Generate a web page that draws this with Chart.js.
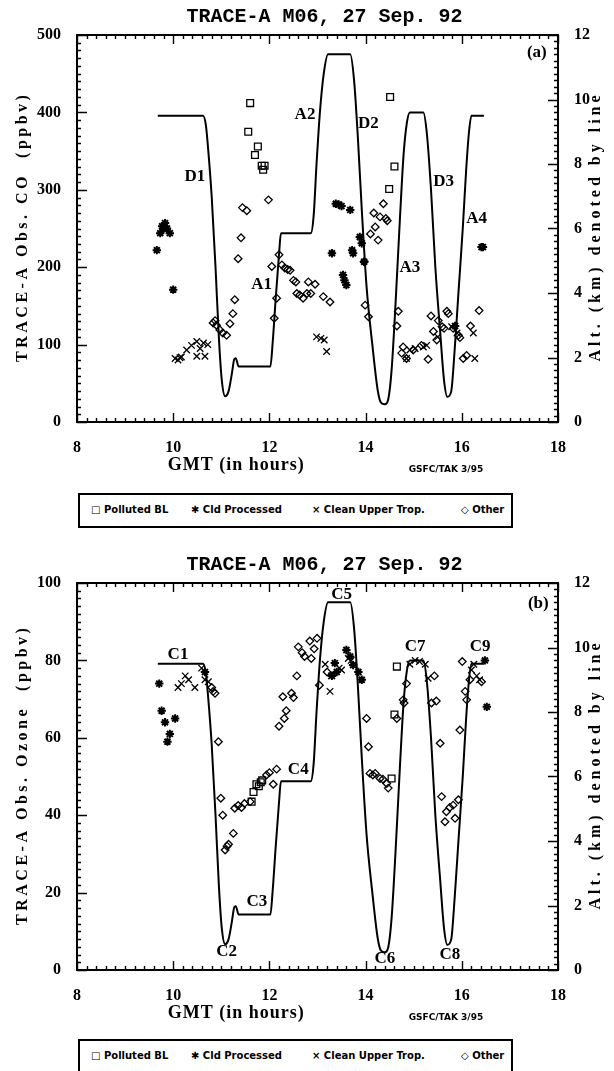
<!DOCTYPE html>
<html>
<head>
<meta charset="utf-8">
<title>TRACE-A M06, 27 Sep. 92</title>
<script src="https://cdn.jsdelivr.net/npm/chart.js@4.4.1/dist/chart.umd.min.js"></script>
<style>
  html, body { margin: 0; padding: 0; background: #fff; }
  body { width: 614px; height: 1071px; position: relative; overflow: hidden; }
  .panel { position: absolute; left: 0; width: 614px; height: 548px; }
  .legend {
    position: absolute; left: 78px; width: 431px; height: 31px;
    border: 2px solid #000; background: #fff;
    font: bold 10px "DejaVu Sans", sans-serif; color: #000;
  }
  .legend span { position: absolute; top: 9px; white-space: nowrap; }
</style>
</head>
<body>
<div class="panel" style="top:0"><canvas id="coChart" width="614" height="548"></canvas></div>
<div class="panel" style="top:548px"><canvas id="o3Chart" width="614" height="548"></canvas></div>

<div class="legend" style="top:493px">
  <span style="left:11px">&#9633; Polluted BL</span>
  <span style="left:111px">&#10033; Cld Processed</span>
  <span style="left:232px">&#215; Clean Upper Trop.</span>
  <span style="left:381px">&#9671; Other</span>
</div>
<div class="legend" style="top:1039px">
  <span style="left:11px">&#9633; Polluted BL</span>
  <span style="left:111px">&#10033; Cld Processed</span>
  <span style="left:232px">&#215; Clean Upper Trop.</span>
  <span style="left:381px">&#9671; Other</span>
</div>

<script>
// ---------------- Flight altitude (km), shared by both panels ----------------
const ALT_GMT = [9.68, 10.62, 10.68, 10.73, 10.8, 10.88, 10.95, 11.01, 11.08, 11.15, 11.22, 11.27, 11.30, 11.36,
  12.02, 12.07, 12.13, 12.2, 12.24, 12.86, 12.92, 12.98, 13.05, 13.13, 13.22, 13.68, 13.76, 13.84, 13.92,
  14.02, 14.14, 14.25, 14.32, 14.4, 14.47, 14.54, 14.62, 14.71, 14.79, 14.86, 14.92, 15.2, 15.27, 15.36,
  15.45, 15.55, 15.63, 15.7, 15.78, 15.85, 15.93, 16.02, 16.09, 16.15, 16.2, 16.46];
const ALT_KM = [9.5, 9.5, 9.2, 8.4, 7.0, 4.8, 2.6, 1.3, 0.8, 0.95, 1.5, 1.95, 1.98, 1.72,
  1.72, 2.5, 3.8, 5.2, 5.85, 5.85, 6.4, 8.0, 9.6, 10.8, 11.4, 11.4, 10.6, 8.8, 6.6,
  4.2, 2.4, 1.0, 0.6, 0.55, 0.7, 1.6, 3.6, 6.2, 8.3, 9.3, 9.6, 9.6, 9.0, 7.2,
  4.8, 2.8, 1.3, 0.78, 0.95, 2.2, 4.0, 6.0, 7.8, 9.0, 9.5, 9.5];

// ---------------- Panel (a): CO, ppbv ----------------
const CO_BL_GMT = [11.56, 11.6, 11.7, 11.76, 11.84, 11.87, 11.9, 14.49, 14.51, 14.6];
const CO_BL = [375, 412, 345, 356, 331, 326, 331, 301, 420, 330];

const CO_CLD_GMT = [9.66, 9.73, 9.77, 9.8, 9.83, 9.87, 9.93, 10.0, 13.3, 13.38, 13.44, 13.5, 13.53, 13.56, 13.6,
  13.68, 13.72, 13.74, 13.88, 13.92, 13.97, 15.86, 16.41, 16.44];
const CO_CLD = [222, 244, 253, 250, 257, 250, 244, 171, 218, 282, 281, 279, 190, 183, 177,
  274, 222, 218, 239, 231, 207, 124, 226, 226];

const CO_CLEAN_GMT = [10.04, 10.1, 10.14, 10.17, 10.28, 10.38, 10.49, 10.49, 10.56, 10.63, 10.66, 10.72,
  12.98, 13.07, 13.14, 13.19, 14.85, 14.92, 15.03, 15.2, 15.27, 15.5, 15.79, 15.9, 16.24, 16.27];
const CO_CLEAN = [82, 80, 83, 84, 93, 99, 104, 85, 95, 102, 85, 100,
  110, 108, 106, 91, 82, 93, 95, 97, 99, 110, 123, 115, 115, 82];

const CO_OTHER_GMT = [10.83, 10.87, 10.9, 10.97, 11.03, 11.11, 11.18, 11.24, 11.28, 11.35, 11.41, 11.44, 11.53,
  11.98, 12.05, 12.1, 12.15, 12.2, 12.26, 12.32, 12.38, 12.43, 12.5, 12.55, 12.57, 12.63, 12.7, 12.78,
  12.81, 12.86, 12.95, 13.12, 13.26, 13.97, 13.99, 14.06, 14.1, 14.17, 14.2, 14.26, 14.3, 14.37, 14.42,
  14.45, 14.65, 14.68, 14.75, 14.78, 14.85, 14.99, 15.16, 15.3, 15.36, 15.41, 15.48, 15.51, 15.59, 15.63,
  15.69, 15.72, 15.82, 15.93, 15.96, 16.03, 16.1, 16.18, 16.36];
const CO_OTHER = [128, 131, 125, 119, 115, 112, 127, 140, 158, 211, 238, 277, 273,
  287, 201, 134, 160, 216, 203, 199, 197, 196, 183, 181, 166, 164, 160, 166,
  181, 166, 178, 162, 155, 207, 151, 136, 243, 270, 252, 235, 265, 282, 263,
  260, 124, 143, 89, 97, 82, 93, 99, 81, 137, 117, 106, 131, 123, 121,
  143, 140, 121, 112, 109, 82, 86, 124, 144];

// ---------------- Panel (b): Ozone, ppbv ----------------
const O3_BL_GMT = [11.63, 11.67, 11.73, 11.78, 11.82, 11.85, 14.54, 14.6, 14.65];
const O3_BL = [43.5, 46, 48, 47.5, 48.5, 49, 49.5, 66, 78.4];

const O3_CLD_GMT = [9.71, 9.76, 9.83, 9.88, 9.93, 10.04, 10.66, 13.3, 13.36, 13.4, 13.6, 13.68, 13.74, 13.85,
  13.92, 16.48, 16.52];
const O3_CLD = [74, 67, 64, 59, 61, 65, 77, 76, 79.3, 77, 82.7, 81, 78.8, 77,
  75, 80, 68];

const O3_CLEAN_GMT = [10.1, 10.17, 10.25, 10.32, 10.45, 10.59, 10.66, 10.73, 13.16, 13.26, 13.29, 13.45, 13.5,
  13.64, 13.7, 14.92, 15.03, 15.12, 15.24, 15.3, 16.2, 16.25, 16.31, 16.37];
const O3_CLEAN = [73, 74, 76, 75, 73, 78, 75, 74.5, 79, 72, 76, 78, 77.5,
  80.5, 80, 79, 80, 79.7, 79, 75.4, 77.5, 79, 76, 75];

const O3_OTHER_GMT = [10.8, 10.83, 10.87, 10.94, 10.99, 11.03, 11.08, 11.12, 11.15, 11.25, 11.28, 11.35, 11.42,
  11.48, 11.6, 11.94, 12.0, 12.08, 12.15, 12.2, 12.28, 12.31, 12.35, 12.46, 12.5, 12.57, 12.6, 12.68,
  12.73, 12.84, 12.87, 12.93, 12.99, 13.04, 13.2, 14.02, 14.06, 14.09, 14.15, 14.2, 14.3, 14.36, 14.44,
  14.47, 14.65, 14.78, 14.8, 14.85, 15.37, 15.43, 15.47, 15.55, 15.58, 15.65, 15.68, 15.75, 15.82, 15.86,
  15.93, 15.96, 16.01, 16.07, 16.1, 16.17, 16.41];
const O3_OTHER = [73, 72, 71.5, 59, 44.4, 40, 31, 32, 32.5, 35.3, 41.8, 42.5, 42,
  43, 43.5, 50.4, 51, 48, 51.9, 63, 70.6, 65, 67, 71.5, 70.4, 76, 83.5, 82,
  81, 85, 80.5, 83, 85.7, 73.6, 77, 65, 57.7, 50.8, 50.4, 50.8, 49.5, 49.3, 48.2,
  47, 65, 69.8, 69, 74, 69, 76, 69.5, 58.6, 44.8, 38.3, 40.9, 42, 42.6, 39.2,
  44, 62, 79.7, 72, 69.8, 75, 74.5];

// ---------------- Tick values and text ----------------
const GMT_TICKS = [8, 10, 12, 14, 16, 18];
const CO_TICKS = [0, 100, 200, 300, 400, 500];
const O3_TICKS = [0, 20, 40, 60, 80, 100];
const ALT_TICKS = [0, 2, 4, 6, 8, 10, 12];

const TITLE = "TRACE-A M06, 27 Sep. 92";
const X_TITLE = "GMT (in hours)";
const ALT_TITLE = "Alt. (km) denoted by line";
const CREDIT = "GSFC/TAK 3/95";

// Flight-leg tags, placed in (GMT, left-axis) units
const CO_TAGS = ["D1", "A2", "A1", "D2", "D3", "A3", "A4", "(a)"];
const CO_TAG_GMT = [10.45, 12.74, 11.84, 14.06, 15.62, 14.92, 16.31, 17.56];
const CO_TAG_VAL = [317, 397, 177, 386, 310, 199, 263, 477];

const O3_TAGS = ["C1", "C2", "C3", "C4", "C5", "C6", "C7", "C8", "C9", "(b)"];
const O3_TAG_GMT = [10.1, 11.11, 11.74, 12.6, 13.5, 14.4, 15.03, 15.75, 16.38, 17.59];
const O3_TAG_VAL = [81.4, 4.7, 17.6, 51.7, 96.9, 3, 83.5, 3.9, 83.5, 94.7];

// ---------------- Helpers ----------------
const zip = (xs, ys) => xs.map((x, i) => ({ x: x, y: ys[i] }));
const SERIF = '"Liberation Serif", "DejaVu Serif", serif';

function markerSet(label, xs, ys, style, radius, width) {
  return {
    label: label, data: zip(xs, ys), yAxisID: 'y', showLine: false,
    pointStyle: style, pointRadius: radius, pointHoverRadius: radius,
    pointBorderColor: '#000', pointBackgroundColor: 'rgba(0,0,0,0)', pointBorderWidth: width
  };
}

function spacedText(ctx, text, x, y, spacing) {
  if ('letterSpacing' in ctx) {
    ctx.letterSpacing = spacing + 'px';
    ctx.fillText(text, x + spacing / 2, y);
    ctx.letterSpacing = '0px';
  } else {
    ctx.fillText(text, x, y);
  }
}

// IDL-style frame: full box, inward major/minor ticks, plus all the text around it.
const frameAndText = {
  id: 'frameAndText',
  afterDraw(chart) {
    const o = chart.options.plugins.frameAndText;
    const ctx = chart.ctx;
    const a = chart.chartArea;
    const xs = chart.scales.x, ys = chart.scales.y, y2 = chart.scales.y2;
    ctx.save();
    ctx.strokeStyle = '#000';
    ctx.fillStyle = '#000';

    // box
    ctx.lineWidth = 2;
    ctx.strokeRect(a.left, a.top, a.right - a.left, a.bottom - a.top);

    ctx.lineWidth = 1.4;
    ctx.beginPath();
    const eps = 1e-6;
    // x ticks on bottom and top edges
    for (let v = xs.min; v <= xs.max + eps; v += 0.2) {
      const major = Math.abs(v / 2 - Math.round(v / 2)) < 1e-4;
      const len = major ? 9 : 4;
      const px = Math.round(xs.getPixelForValue(v)) + 0.5;
      ctx.moveTo(px, a.bottom); ctx.lineTo(px, a.bottom - len);
      ctx.moveTo(px, a.top); ctx.lineTo(px, a.top + len);
    }
    // left axis ticks
    for (let v = ys.min; v <= ys.max + eps; v += o.leftMinor) {
      const major = Math.abs(v / o.leftMajor - Math.round(v / o.leftMajor)) < 1e-4;
      const len = major ? 10 : 4;
      const py = Math.round(ys.getPixelForValue(v)) + 0.5;
      ctx.moveTo(a.left, py); ctx.lineTo(a.left + len, py);
    }
    // right (altitude) axis ticks
    for (let v = y2.min; v <= y2.max + eps; v += 0.2) {
      const major = Math.abs(v / 2 - Math.round(v / 2)) < 1e-4;
      const len = major ? 10 : 4;
      const py = Math.round(y2.getPixelForValue(v)) + 0.5;
      ctx.moveTo(a.right, py); ctx.lineTo(a.right - len, py);
    }
    ctx.stroke();

    // title
    ctx.textAlign = 'center';
    ctx.textBaseline = 'middle';
    ctx.font = 'bold 20px "Liberation Mono", monospace';
    ctx.fillText(TITLE, (a.left + a.right) / 2 + 7, 17);

    // axis titles
    ctx.font = 'bold 18px ' + SERIF;
    spacedText(ctx, X_TITLE, xs.getPixelForValue(11.3), a.bottom + 43, 1);

    ctx.font = 'bold 16px ' + SERIF;
    ctx.save();
    ctx.translate(23, (a.top + a.bottom) / 2);
    ctx.rotate(-Math.PI / 2);
    spacedText(ctx, o.leftTitle, 0, 0, 3.5);
    ctx.restore();

    ctx.save();
    ctx.translate(596, (a.top + a.bottom) / 2);
    ctx.rotate(-Math.PI / 2);
    spacedText(ctx, ALT_TITLE, 0, 0, 4);
    ctx.restore();

    // credit line
    ctx.font = 'bold 9px "DejaVu Sans", sans-serif';
    ctx.fillText(CREDIT, xs.getPixelForValue(15.67), a.bottom + 48);

    // leg tags
    ctx.font = 'bold 17px ' + SERIF;
    o.tags.forEach((t, i) => {
      ctx.fillText(t, xs.getPixelForValue(o.tagX[i]), ys.getPixelForValue(o.tagY[i]));
    });
    ctx.restore();
  }
};

function buildChart(id, cfg) {
  const tickFont = { family: SERIF, size: 16, weight: 'bold' };
  return new Chart(document.getElementById(id), {
    type: 'scatter',
    data: {
      datasets: [
        {
          label: 'Altitude', data: zip(ALT_GMT, ALT_KM), yAxisID: 'y2', showLine: true,
          borderColor: '#000', borderWidth: 2, pointRadius: 0, pointHoverRadius: 0,
          cubicInterpolationMode: 'monotone', fill: false
        },
        markerSet('Polluted BL', cfg.bl[0], cfg.bl[1], 'rect', 4.8, 1.3),
        markerSet('Cld Processed', cfg.cld[0], cfg.cld[1], 'star', 4.2, 2),
        markerSet('Clean Upper Trop.', cfg.clean[0], cfg.clean[1], 'crossRot', 4.6, 1.3),
        markerSet('Other', cfg.other[0], cfg.other[1], 'rectRot', 3.8, 1.3)
      ]
    },
    options: {
      responsive: false,
      animation: false,
      events: [],
      layout: { padding: { top: 35, left: 0, right: 0, bottom: 548 - 458 } },
      plugins: {
        legend: { display: false },
        tooltip: { enabled: false },
        title: { display: false },
        frameAndText: {
          leftTitle: cfg.leftTitle, leftMinor: cfg.leftMinor, leftMajor: cfg.leftMajor,
          tags: cfg.tags, tagX: cfg.tagX, tagY: cfg.tagY
        }
      },
      scales: {
        x: {
          type: 'linear', position: 'bottom', min: 8, max: 18,
          grid: { display: false }, border: { display: false },
          afterBuildTicks: s => { s.ticks = GMT_TICKS.map(v => ({ value: v })); },
          ticks: { color: '#000', font: tickFont, padding: 8, maxRotation: 0 },
          afterFit: s => { s.height = 36; }
        },
        y: {
          type: 'linear', position: 'left', min: cfg.yMin, max: cfg.yMax,
          grid: { display: false }, border: { display: false },
          afterBuildTicks: s => { s.ticks = cfg.yTicks.map(v => ({ value: v })); },
          ticks: { color: '#000', font: tickFont, padding: 8 },
          afterFit: s => { s.width = 77; }
        },
        y2: {
          type: 'linear', position: 'right', min: 0, max: 12,
          grid: { display: false }, border: { display: false },
          afterBuildTicks: s => { s.ticks = ALT_TICKS.map(v => ({ value: v })); },
          ticks: { color: '#000', font: tickFont, padding: 8 },
          afterFit: s => { s.width = 56; }
        }
      }
    },
    plugins: [frameAndText]
  });
}

buildChart('coChart', {
  bl: [CO_BL_GMT, CO_BL], cld: [CO_CLD_GMT, CO_CLD], clean: [CO_CLEAN_GMT, CO_CLEAN], other: [CO_OTHER_GMT, CO_OTHER],
  yMin: 0, yMax: 500, yTicks: CO_TICKS, leftMinor: 10, leftMajor: 100,
  leftTitle: "TRACE-A Obs. CO  (ppbv)",
  tags: CO_TAGS, tagX: CO_TAG_GMT, tagY: CO_TAG_VAL
});

buildChart('o3Chart', {
  bl: [O3_BL_GMT, O3_BL], cld: [O3_CLD_GMT, O3_CLD], clean: [O3_CLEAN_GMT, O3_CLEAN], other: [O3_OTHER_GMT, O3_OTHER],
  yMin: 0, yMax: 100, yTicks: O3_TICKS, leftMinor: 2, leftMajor: 20,
  leftTitle: "TRACE-A Obs. Ozone  (ppbv)",
  tags: O3_TAGS, tagX: O3_TAG_GMT, tagY: O3_TAG_VAL
});
</script>
</body>
</html>
